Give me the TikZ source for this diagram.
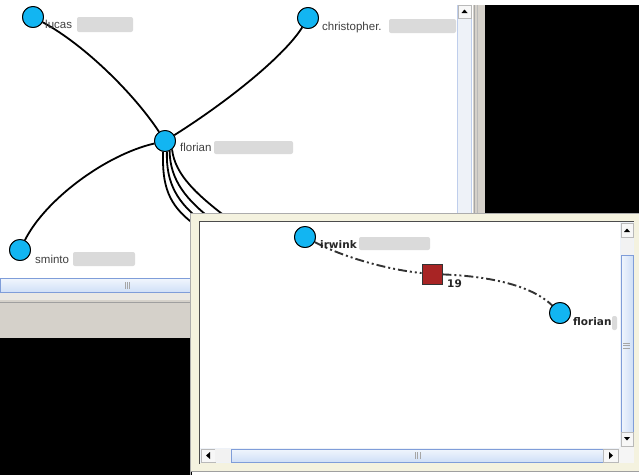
\documentclass[tikz,border=0pt]{standalone}
\usepackage{fontspec}
\setmainfont{Liberation Sans}
\newfontfamily\boldfont{DejaVu Sans}
\definecolor{nodeblue}{HTML}{12B5F2}
\definecolor{sqred}{HTML}{A82424}
\definecolor{cream}{HTML}{F4F2DF}
\definecolor{winbeige}{HTML}{D5D1CA}
\definecolor{sbfill}{HTML}{CFDFF7}
\definecolor{sbline}{HTML}{7F9DD9}
\definecolor{sbtrack}{HTML}{EEF2F8}
\definecolor{blurgray}{HTML}{DADADA}
\begin{document}
\begin{tikzpicture}[x=1pt,y=-1pt,
  person/.style={circle,draw=black,line width=0.9pt,fill=nodeblue,minimum size=21pt,inner sep=0pt},
  edgeline/.style={line width=1.8pt,black},
  ddline/.style={line width=1.9pt,black!80,dash pattern=on 9pt off 3pt on 2pt off 3pt on 2pt off 3pt},
  toplabel/.style={anchor=base west,inner sep=0pt,font=\fontsize{11.5}{13}\selectfont,text=black!75},
  botlabel/.style={anchor=base west,inner sep=0pt,font=\boldfont\bfseries\fontsize{10.5}{12}\selectfont,text=black!85},
  blurbox/.style={fill=blurgray,draw=none,rounded corners=2pt},
  sbbtn/.style={draw=gray!55,fill=gray!6},
  sbthumbh/.style={draw=sbline,top color=white!70!sbfill,bottom color=sbfill},
  sbthumbv/.style={draw=sbline,left color=white!70!sbfill,right color=sbfill},
  grip/.style={draw=gray!70,line width=0.6pt}
]
\useasboundingbox (0,0) rectangle (639,475);
\fill[white] (0,0) rectangle (639,475);

% ---------- upper window ----------
\fill[black] (485,5) rectangle (639,214);
\fill[winbeige] (473,5) rectangle (485,214);
\draw[gray!70] (474,5) -- (474,214);
\draw[gray!55] (477,5) -- (477,214);
\fill[sbtrack] (457,5) rectangle (472,214);
\draw[sbline!50] (457.5,5) -- (457.5,214) (471.5,5) -- (471.5,214);
\draw[sbbtn] (458,5) rectangle (471,18);
\fill[black] (461.5,13) -- (467.5,13) -- (464.5,9.5) -- cycle;

\draw[sbthumbh] (0,278.5) rectangle (192,292.5);
\draw[grip] (125,282) -- (125,289) (127,282) -- (127,289) (129,282) -- (129,289);
\fill[winbeige] (0,293) rectangle (192,338);
\fill[white!50!winbeige] (0,293) rectangle (192,300);
\draw[gray!75] (0,302) -- (192,302);
\fill[black] (0,338) rectangle (192,475);

% nodes upper
\node[person] (lucas) at (33,17) {};
\node[person] (chris) at (308,18) {};
\node[person] (flor) at (165,141) {};
\node[person] (sminto) at (20,250) {};

\coordinate (e1) at (194,224);
\coordinate (e2) at (204,223);
\coordinate (e3) at (215,222);
\coordinate (e4) at (230,220);

\draw[edgeline] (lucas) .. controls (85,45) and (135,95) .. (flor);
\draw[edgeline] (chris) .. controls (285,55) and (230,100) .. (flor);
\draw[edgeline] (sminto) .. controls (45,200) and (105,155) .. (flor);
\draw[edgeline] (flor.-100) .. controls (162,185) and (168,205) .. (e1);
\draw[edgeline] (flor.-80) .. controls (166,183) and (177,203) .. (e2);
\draw[edgeline] (flor.-65) .. controls (170,180) and (186,200) .. (e3);
\draw[edgeline] (flor.-50) .. controls (175,175) and (197,195) .. (e4);
% redraw nodes on top of edges
\node[person] at (lucas) {};
\node[person] at (chris) {};
\node[person] at (flor) {};
\node[person] at (sminto) {};

\node[toplabel] (llucas) at (45,28) {lucas};
\fill[blurbox] (77,17) rectangle (133,32);
\node[toplabel] (lchris) at (322,30) {christopher.};
\fill[blurbox] (389,19) rectangle (456,33);
\node[toplabel] (lflor) at (180,151) {florian};
\fill[blurbox] (214,141) rectangle (293,154);
\node[toplabel] (lsminto) at (35,263) {sminto};
\fill[blurbox] (73,252) rectangle (135,266);

% ---------- lower window ----------
\fill[cream] (190,213) rectangle (639,471);
\draw[gray!65] (190.5,475) -- (190.5,213.5) -- (639,213.5);
\draw[gray!75] (190.5,471) -- (639,471);
\fill[white] (200,222) rectangle (634,463);
\draw[black!70,line width=1pt] (199.5,464) -- (199.5,221.5) -- (634,221.5);

% vertical scrollbar
\fill[sbtrack] (620,222) rectangle (634,447);
\draw[sbbtn] (621,223) rectangle (633,237);
\fill[black] (624,232) -- (630,232) -- (627,228.5) -- cycle;
\fill[gray!10] (621,238) rectangle (633,255);
\draw[sbthumbv] (621,255) rectangle (633,432);
\draw[grip] (623,343) -- (630,343) (623,345.5) -- (630,345.5) (623,348) -- (630,348);
\draw[sbbtn] (621,432) rectangle (633,446);
\fill[black] (624,437) -- (630,437) -- (627,440.5) -- cycle;
\fill[gray!8] (619,447) rectangle (634,463);

% horizontal scrollbar
\fill[sbtrack] (200,448) rectangle (619,463);
\draw[sbbtn] (201,449) rectangle (215,462);
\fill[black] (210,452) -- (210,459) -- (206,455.5) -- cycle;
\fill[gray!10] (215,449) rectangle (231,462);
\draw[sbthumbh] (231,449) rectangle (603,462);
\draw[grip] (415,452) -- (415,459) (417.5,452) -- (417.5,459) (420,452) -- (420,459);
\draw[sbbtn] (603,449) rectangle (618,462);
\fill[black] (609,452) -- (609,459) -- (613,455.5) -- cycle;

% graph lower
\node[person] (irw) at (305,237) {};
\node[draw=black!80,line width=0.8pt,fill=sqred,minimum size=20pt,inner sep=0pt] (sq) at (432,274) {};
\node[person] (flor2) at (560,313) {};
\draw[ddline] (irw) .. controls (345,258) and (390,270) .. (sq);
\draw[ddline] (sq) .. controls (485,276) and (530,284) .. (flor2);
\node[person] at (irw) {};
\node[person] at (flor2) {};

\node[botlabel] (lirw) at (320,248) {irwink};
\fill[blurbox] (359,237) rectangle (430,250);
\node[botlabel] (lsq) at (447,287) {19};
\node[botlabel] (lflor2) at (573,325) {florian};
\fill[blurbox] (612,316) rectangle (617,330);
\end{tikzpicture}
\end{document}
